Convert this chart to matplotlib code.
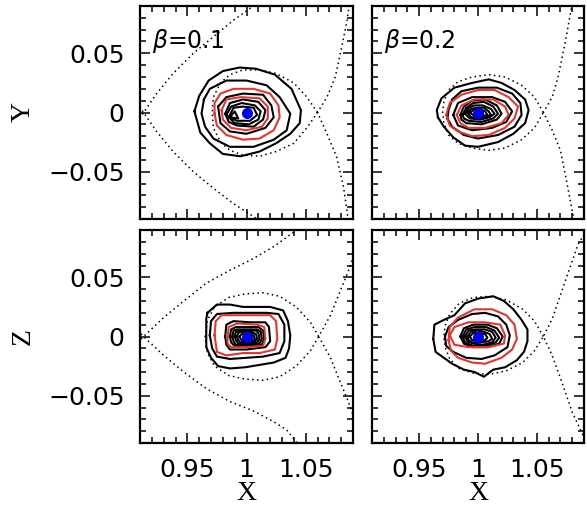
import matplotlib

matplotlib.use("Agg")
import matplotlib.pyplot as plt
from matplotlib.ticker import MultipleLocator

# ---------------------------------------------------------------- data
# contour rings, (x, y) in data units

# beta = 0.1, x-y plane
b1_xy_black = [
    [(0.956, 0.001), (0.960, 0.014), (0.968, 0.027), (0.980, 0.035), (0.994, 0.038),
     (1.008, 0.037), (1.024, 0.032), (1.038, 0.020), (1.046, 0.002), (1.045, -0.009),
     (1.037, -0.018), (1.025, -0.026), (1.011, -0.033), (0.995, -0.037), (0.980, -0.035),
     (0.969, -0.026), (0.961, -0.017)],
    [(0.964, 0.011), (0.969, 0.020), (0.983, 0.027), (1.000, 0.027), (1.017, 0.023),
     (1.028, 0.013), (1.037, -0.001), (1.034, -0.015), (1.023, -0.023), (1.006, -0.029),
     (0.986, -0.029), (0.972, -0.022), (0.965, -0.012), (0.962, -0.001)],
    [(0.976, 0.005), (0.983, 0.013), (0.997, 0.016), (1.014, 0.015), (1.021, 0.006),
     (1.023, -0.004), (1.016, -0.013), (1.000, -0.018), (0.986, -0.016), (0.978, -0.009)],
    [(0.982, -0.001), (0.986, 0.008), (0.997, 0.011), (1.010, 0.009), (1.016, 0.002),
     (1.014, -0.006), (1.006, -0.012), (0.992, -0.011), (0.985, -0.008)],
    [(0.983, -0.002), (0.987, 0.005), (0.996, 0.008), (1.007, 0.006), (1.012, 0.001),
     (1.010, -0.006), (1.002, -0.010), (0.990, -0.009)],
    [(0.985, -0.004), (0.989, 0.004), (0.997, 0.005), (1.006, 0.004), (1.009, -0.002),
     (1.003, -0.007), (0.992, -0.007)],
    [(0.986, -0.004), (0.990, 0.001), (0.993, -0.005)],
]
b1_xy_red = [
    [(0.973, -0.001), (0.973, 0.008), (0.978, 0.016), (0.989, 0.020), (1.006, 0.020),
     (1.020, 0.016), (1.027, 0.006), (1.028, -0.004), (1.023, -0.015), (1.011, -0.022),
     (0.997, -0.023), (0.983, -0.019), (0.975, -0.011)],
    [(0.979, 0.002), (0.983, 0.011), (0.995, 0.013), (1.011, 0.012), (1.018, 0.005),
     (1.018, -0.005), (1.013, -0.012), (1.000, -0.015), (0.987, -0.013), (0.980, -0.006)],
]

# beta = 0.2, x-y plane
b2_xy_black = [
    [(0.966, -0.004), (0.965, 0.002), (0.969, 0.012), (0.980, 0.021), (0.995, 0.025),
     (1.009, 0.028), (1.020, 0.025), (1.031, 0.019), (1.040, 0.011), (1.043, 0.002),
     (1.040, -0.009), (1.030, -0.018), (1.017, -0.025), (1.000, -0.029), (0.989, -0.028),
     (0.979, -0.021), (0.971, -0.012)],
    [(0.974, -0.005), (0.975, 0.002), (0.978, 0.011), (0.986, 0.018), (1.000, 0.021),
     (1.016, 0.021), (1.029, 0.016), (1.036, 0.008), (1.037, -0.002), (1.031, -0.012),
     (1.017, -0.019), (1.000, -0.022), (0.988, -0.019), (0.978, -0.012)],
    [(0.979, -0.002), (0.983, 0.008), (0.995, 0.013), (1.012, 0.013), (1.023, 0.009),
     (1.029, 0.001), (1.024, -0.008), (1.012, -0.013), (0.995, -0.015), (0.983, -0.011)],
    [(0.985, -0.002), (0.988, 0.005), (0.995, 0.010), (1.006, 0.011), (1.016, 0.006),
     (1.020, -0.001), (1.016, -0.006), (1.003, -0.010), (0.990, -0.009), (0.986, -0.006)],
    [(0.987, -0.002), (0.990, 0.004), (0.996, 0.008), (1.005, 0.009), (1.013, 0.005),
     (1.017, -0.001), (1.013, -0.005), (1.003, -0.008), (0.992, -0.007), (0.988, -0.005)],
    [(0.989, -0.001), (0.992, 0.004), (0.997, 0.006), (1.004, 0.006), (1.011, 0.003),
     (1.014, -0.001), (1.010, -0.004), (1.002, -0.006), (0.993, -0.005)],
    [(0.991, 0.000), (0.994, 0.003), (0.999, 0.004), (1.005, 0.004), (1.009, 0.001),
     (1.011, -0.002), (1.007, -0.004), (1.000, -0.005), (0.994, -0.004)],
    [(0.993, 0.000), (0.996, 0.002), (1.001, 0.003), (1.006, 0.001), (1.008, -0.002),
     (1.004, -0.003), (0.997, -0.003)],
]
b2_xy_red = [
    [(0.973, -0.002), (0.976, 0.008), (0.986, 0.015), (1.000, 0.019), (1.014, 0.019),
     (1.026, 0.013), (1.034, 0.005), (1.031, -0.005), (1.023, -0.013), (1.009, -0.019),
     (0.995, -0.020), (0.983, -0.016), (0.976, -0.011)],
    [(0.982, -0.002), (0.986, 0.006), (0.997, 0.011), (1.013, 0.011), (1.023, 0.005),
     (1.026, -0.002), (1.020, -0.009), (1.006, -0.013), (0.992, -0.013), (0.985, -0.009)],
]

# beta = 0.1, x-z plane
b1_xz_black = [
    [(0.967, 0.020), (0.975, 0.027), (0.986, 0.027), (0.997, 0.025), (1.009, 0.025),
     (1.020, 0.025), (1.031, 0.022), (1.035, 0.013), (1.037, 0.001), (1.036, -0.010),
     (1.033, -0.018), (1.023, -0.022), (1.011, -0.024), (0.999, -0.026), (0.986, -0.027),
     (0.976, -0.025), (0.970, -0.018), (0.966, -0.009), (0.966, 0.004), (0.966, 0.015)],
    [(0.969, 0.001), (0.970, 0.013), (0.975, 0.019), (0.989, 0.020), (1.003, 0.020),
     (1.017, 0.020), (1.027, 0.019), (1.032, 0.010), (1.032, -0.004), (1.028, -0.014),
     (1.014, -0.017), (1.000, -0.018), (0.986, -0.019), (0.975, -0.017), (0.971, -0.010)],
    [(0.982, 0.000), (0.983, 0.010), (0.989, 0.013), (1.003, 0.012), (1.016, 0.012),
     (1.019, 0.008), (1.020, -0.004), (1.016, -0.009), (1.000, -0.011), (0.986, -0.011),
     (0.983, -0.007)],
    [(0.986, 0.000), (0.987, 0.006), (0.991, 0.008), (1.000, 0.008), (1.010, 0.008),
     (1.014, 0.005), (1.015, -0.002), (1.013, -0.007), (1.000, -0.008), (0.990, -0.008),
     (0.987, -0.005)],
    [(0.988, 0.000), (0.989, 0.005), (0.992, 0.006), (1.000, 0.006), (1.009, 0.006),
     (1.012, 0.004), (1.013, -0.002), (1.011, -0.006), (1.000, -0.007), (0.991, -0.007),
     (0.989, -0.004)],
    [(0.990, 0.000), (0.991, 0.004), (0.994, 0.005), (1.000, 0.005), (1.008, 0.005),
     (1.010, 0.003), (1.011, -0.002), (1.009, -0.005), (1.000, -0.006), (0.993, -0.006),
     (0.991, -0.003)],
    [(0.992, 0.000), (0.993, 0.003), (0.996, 0.004), (1.004, 0.004), (1.008, 0.002),
     (1.009, -0.002), (1.007, -0.004), (1.000, -0.005), (0.995, -0.005), (0.993, -0.003)],
    [(0.994, 0.000), (0.996, 0.002), (1.003, 0.003), (1.006, 0.001), (1.007, -0.002),
     (1.004, -0.004), (0.997, -0.004), (0.995, -0.002)],
]
b1_xz_red = [
    [(0.973, 0.001), (0.974, 0.013), (0.979, 0.018), (0.992, 0.018), (1.006, 0.018),
     (1.020, 0.018), (1.025, 0.013), (1.026, -0.002), (1.024, -0.011), (1.011, -0.014),
     (0.997, -0.014), (0.983, -0.016), (0.975, -0.013)],
    [(0.984, 0.000), (0.985, 0.008), (0.992, 0.011), (1.009, 0.010), (1.015, 0.008),
     (1.016, -0.002), (1.014, -0.008), (1.000, -0.009), (0.987, -0.009), (0.984, -0.006)],
]

# beta = 0.2, x-z plane
b2_xz_black = [
    [(0.962, -0.002), (0.963, 0.010), (0.971, 0.014), (0.980, 0.018), (0.989, 0.028),
     (1.000, 0.032), (1.013, 0.034), (1.022, 0.030), (1.030, 0.023), (1.037, 0.014),
     (1.042, 0.006), (1.042, -0.004), (1.039, -0.013), (1.033, -0.020), (1.023, -0.026),
     (1.013, -0.028), (1.005, -0.034), (0.997, -0.030), (0.988, -0.028), (0.978, -0.023),
     (0.971, -0.018), (0.964, -0.013)],
    [(0.972, 0.000), (0.975, 0.008), (0.983, 0.014), (0.995, 0.019), (1.006, 0.020),
     (1.017, 0.017), (1.024, 0.010), (1.027, 0.001), (1.025, -0.009), (1.014, -0.016),
     (1.003, -0.019), (0.990, -0.018), (0.979, -0.013), (0.973, -0.008)],
    [(0.985, 0.000), (0.988, 0.007), (0.996, 0.010), (1.008, 0.010), (1.016, 0.007),
     (1.021, 0.000), (1.018, -0.006), (1.008, -0.009), (0.995, -0.009), (0.988, -0.006)],
    [(0.987, 0.000), (0.990, 0.006), (0.997, 0.008), (1.007, 0.008), (1.014, 0.005),
     (1.018, -0.001), (1.015, -0.005), (1.006, -0.008), (0.996, -0.008), (0.989, -0.005)],
    [(0.989, 0.000), (0.992, 0.005), (0.998, 0.006), (1.006, 0.006), (1.012, 0.004),
     (1.015, -0.001), (1.012, -0.005), (1.004, -0.007), (0.996, -0.006), (0.991, -0.004)],
    [(0.991, 0.000), (0.994, 0.004), (0.999, 0.005), (1.005, 0.004), (1.010, 0.002),
     (1.012, -0.002), (1.009, -0.004), (1.002, -0.005), (0.995, -0.005), (0.992, -0.003)],
    [(0.993, 0.000), (0.996, 0.003), (1.001, 0.003), (1.006, 0.002), (1.008, -0.001),
     (1.006, -0.003), (1.000, -0.004), (0.995, -0.003)],
]
b2_xz_red = [
    [(0.975, -0.003), (0.976, 0.008), (0.983, 0.016), (0.997, 0.023), (1.012, 0.023),
     (1.024, 0.018), (1.031, 0.010), (1.033, -0.002), (1.029, -0.011), (1.020, -0.018),
     (1.006, -0.023), (0.995, -0.022), (0.983, -0.018), (0.977, -0.012)],
    [(0.976, 0.001), (0.980, 0.008), (0.992, 0.012), (1.006, 0.012), (1.019, 0.010),
     (1.023, 0.001), (1.022, -0.006), (1.009, -0.009), (0.992, -0.009), (0.980, -0.007)],
]

# dotted zero-velocity curves
b1_xy_dots = [
    [(1.060, 0.000), (1.051, 0.013), (1.040, 0.025), (1.025, 0.033), (1.011, 0.036),
     (0.997, 0.036), (0.986, 0.032), (0.978, 0.025), (0.972, 0.013), (0.971, 0.000),
     (0.972, -0.013), (0.978, -0.025), (0.986, -0.032), (0.997, -0.036), (1.011, -0.037),
     (1.025, -0.033), (1.040, -0.026), (1.051, -0.013), (1.060, 0.000)],
    [(1.0875, 0.095), (1.085, 0.078), (1.080, 0.053), (1.075, 0.030), (1.068, 0.013),
     (1.060, 0.000), (1.068, -0.018), (1.076, -0.037), (1.082, -0.063), (1.086, -0.091)],
    [(0.905, -0.012), (0.913, 0.000), (0.924, 0.016), (0.938, 0.033), (0.955, 0.050),
     (0.972, 0.064), (0.989, 0.078), (1.003, 0.088), (1.013, 0.095)],
    [(0.905, 0.012), (0.913, 0.000), (0.924, -0.016), (0.938, -0.033), (0.955, -0.050),
     (0.972, -0.064), (0.989, -0.077), (1.006, -0.088), (1.014, -0.094)],
]
b2_xy_dots = [
    [(1.0555, 0.000), (1.048, 0.013), (1.037, 0.023), (1.023, 0.030), (1.009, 0.032),
     (0.995, 0.030), (0.983, 0.026), (0.975, 0.019), (0.971, 0.009), (0.970, 0.000),
     (0.971, -0.009), (0.975, -0.019), (0.983, -0.026), (0.995, -0.030), (1.009, -0.032),
     (1.023, -0.030), (1.037, -0.023), (1.048, -0.013), (1.0555, 0.000)],
    [(1.080, 0.092), (1.078, 0.081), (1.074, 0.059), (1.068, 0.030), (1.063, 0.013),
     (1.0555, 0.000), (1.063, -0.015), (1.070, -0.032), (1.075, -0.057), (1.080, -0.083),
     (1.082, -0.092)],
]
b1_xz_dots = [
    [(1.061, 0.000), (1.054, 0.012), (1.042, 0.025), (1.028, 0.034), (1.014, 0.037),
     (0.999, 0.036), (0.985, 0.033), (0.973, 0.025), (0.967, 0.014), (0.965, 0.000),
     (0.967, -0.014), (0.973, -0.025), (0.985, -0.033), (0.999, -0.036), (1.014, -0.037),
     (1.028, -0.034), (1.042, -0.025), (1.054, -0.012), (1.061, 0.000)],
    [(1.092, 0.072), (1.086, 0.055), (1.079, 0.038), (1.071, 0.018), (1.061, 0.000),
     (1.071, -0.018), (1.079, -0.038), (1.086, -0.055), (1.092, -0.072)],
    [(0.905, -0.008), (0.913, 0.000), (0.930, 0.016), (0.947, 0.030), (0.966, 0.045),
     (0.986, 0.056), (1.006, 0.066), (1.023, 0.076), (1.041, 0.089), (1.044, 0.092)],
    [(0.905, 0.008), (0.913, 0.000), (0.930, -0.016), (0.947, -0.030), (0.966, -0.044),
     (0.986, -0.055), (1.006, -0.063), (1.023, -0.072), (1.034, -0.079), (1.042, -0.089),
     (1.044, -0.092)],
]
b2_xz_dots = [
    [(1.0555, 0.000), (1.048, 0.013), (1.038, 0.023), (1.024, 0.031), (1.010, 0.034),
     (0.996, 0.033), (0.984, 0.028), (0.976, 0.019), (0.972, 0.009), (0.971, 0.000),
     (0.972, -0.009), (0.976, -0.019), (0.984, -0.027), (0.996, -0.031), (1.010, -0.032),
     (1.024, -0.029), (1.038, -0.022), (1.048, -0.012), (1.0555, 0.000)],
    [(1.092, 0.090), (1.090, 0.086), (1.085, 0.078), (1.078, 0.058), (1.071, 0.038),
     (1.063, 0.015), (1.0555, 0.000), (1.063, -0.016), (1.071, -0.038), (1.080, -0.064),
     (1.088, -0.081), (1.092, -0.090)],
]

planet = (1.0, 0.0)
beta_labels = [r"$\beta$=0.1", r"$\beta$=0.2"]
row_labels = ["Y", "Z"]
xtick_vals = [0.95, 1.0, 1.05]
xtick_text = ["0.95", "1", "1.05"]
ytick_vals = [-0.05, 0.0, 0.05]
ytick_text = ["\u22120.05", "0", "0.05"]

RED = "#e4362c"


def ring(ax, pts, color):
    xs = [p[0] for p in pts] + [pts[0][0]]
    ys = [p[1] for p in pts] + [pts[0][1]]
    ax.plot(xs, ys, color=color, lw=1.5, zorder=3)


def dots(ax, pts):
    ax.plot([p[0] for p in pts], [p[1] for p in pts], color="black",
            lw=1.1, ls=(0, (1, 2.2)), zorder=2)


fig = plt.figure(figsize=(5.87, 5.08), dpi=100)
W, H = 587.0, 508.0
cols = [(140, 353), (372, 584)]
rows = [(6, 219), (230, 443)]

panels = [
    (0, 0, b1_xy_black, b1_xy_red, b1_xy_dots),
    (0, 1, b2_xy_black, b2_xy_red, b2_xy_dots),
    (1, 0, b1_xz_black, b1_xz_red, b1_xz_dots),
    (1, 1, b2_xz_black, b2_xz_red, b2_xz_dots),
]

for r, c, blacks, reds, curves in panels:
    x0, x1 = cols[c]
    y0, y1 = rows[r]
    ax = fig.add_axes([x0 / W, 1 - y1 / H, (x1 - x0) / W, (y1 - y0) / H])
    for cv in curves:
        dots(ax, cv)
    for rg in blacks:
        ring(ax, rg, "black")
    for rg in reds:
        ring(ax, rg, RED)
    ax.plot([planet[0]], [planet[1]], "o", color="#0000ff", ms=8, mec="none", zorder=5)

    ax.set_xlim(0.91, 1.09)
    ax.set_ylim(-0.09, 0.09)
    ax.xaxis.set_minor_locator(MultipleLocator(0.01))
    ax.yaxis.set_minor_locator(MultipleLocator(0.01))
    ax.set_xticks(xtick_vals)
    ax.set_yticks(ytick_vals)
    ax.tick_params(which="both", direction="in", top=True, right=True, width=1.1)
    ax.tick_params(which="major", length=7.5)
    ax.tick_params(which="minor", length=4.2)
    ax.tick_params(axis="x", pad=11, labelsize=18)
    ax.tick_params(axis="y", pad=11, labelsize=18)
    for s in ax.spines.values():
        s.set_linewidth(1.6)

    if r == 1:
        ax.set_xticklabels(xtick_text)
        fig.text((x0 + x1) / 2 / W, 1 - 493 / H, "X", family="Liberation Serif",
                 fontsize=20, ha="center", va="center")
    else:
        ax.set_xticklabels([])
        ax.text(0.055, 0.90, beta_labels[c], transform=ax.transAxes,
                fontsize=17, va="top", ha="left")
    if c == 0:
        ax.set_yticklabels(ytick_text)
        fig.text(23 / W, 1 - (y0 + y1) / 2 / H, row_labels[r], family="Liberation Serif",
                 fontsize=20, rotation=90, ha="center", va="center")
    else:
        ax.set_yticklabels([])

fig.savefig("out.png", dpi=100)
